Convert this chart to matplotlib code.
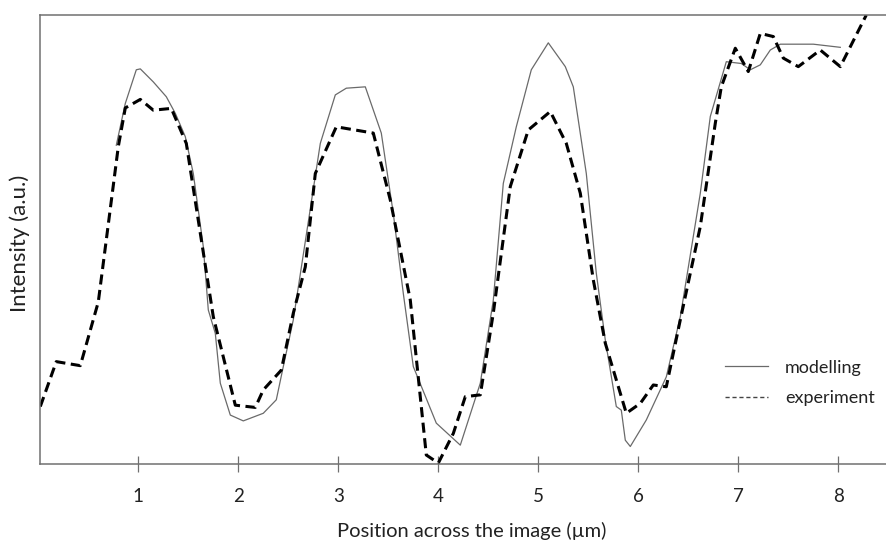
import matplotlib
matplotlib.use("Agg")
import matplotlib.pyplot as plt
from matplotlib.lines import Line2D

plt.rcParams["font.family"] = ["Lato", "DejaVu Sans"]

# experiment profile (dashed), position in um and intensity in a.u.
exp_x = [0.02, 0.18, 0.42, 0.60, 0.80, 0.87, 1.02, 1.15, 1.33, 1.48, 1.62, 1.75,
         1.97, 2.17, 2.25, 2.43, 2.55, 2.67, 2.77, 2.98, 3.35, 3.52, 3.72, 3.88,
         4.00, 4.15, 4.27, 4.42, 4.55, 4.72, 4.90, 5.12, 5.28, 5.42, 5.55, 5.67,
         5.88, 6.02, 6.15, 6.28, 6.42, 6.62, 6.77, 6.83, 6.97, 7.10, 7.22, 7.35,
         7.45, 7.60, 7.82, 8.02, 8.28]
exp_y = [12.8, 22.8, 21.9, 36.1, 70.7, 79.3, 81.2, 78.8, 79.2, 71.4, 51.4, 32.8,
         13.1, 12.6, 16.5, 20.9, 33.6, 43.9, 64.7, 75.1, 73.7, 58.8, 36.5, 2.0,
         0.2, 6.8, 15.0, 15.4, 33.6, 61.8, 74.4, 78.5, 71.4, 60.3, 41.0, 26.9,
         11.3, 13.5, 17.6, 17.2, 32.1, 52.9, 75.9, 84.0, 92.6, 87.4, 95.9, 95.2,
         90.4, 88.5, 92.2, 88.5, 100.0]

# modelling profile (solid)
mod_x = [0.78, 0.87, 0.98, 1.02, 1.15, 1.28, 1.37, 1.47, 1.55, 1.65, 1.70, 1.77,
         1.82, 1.92, 2.05, 2.25, 2.38, 2.45, 2.55, 2.82, 2.97, 3.08, 3.27, 3.43,
         3.55, 3.65, 3.75, 3.98, 4.22, 4.42, 4.55, 4.65, 4.78, 4.93, 5.10, 5.27,
         5.35, 5.48, 5.58, 5.67, 5.78, 5.83, 5.87, 5.92, 6.08, 6.28, 6.42, 6.62,
         6.72, 6.88, 7.03, 7.12, 7.22, 7.32, 7.42, 7.75, 8.02]
mod_y = [71.0, 80.3, 87.8, 88.0, 85.1, 81.8, 78.1, 72.9, 64.7, 48.4, 34.3, 29.1,
         18.0, 10.9, 9.6, 11.3, 14.3, 21.7, 32.1, 71.4, 82.2, 83.7, 84.0, 73.7,
         55.8, 38.0, 21.7, 9.1, 4.2, 18.0, 36.5, 62.5, 75.1, 87.8, 93.8, 88.5,
         84.0, 64.7, 42.5, 27.6, 12.8, 12.0, 5.3, 3.9, 9.8, 19.4, 32.8, 60.3,
         77.4, 89.6, 89.2, 87.8, 88.9, 92.2, 93.5, 93.5, 92.8]

xticks = [1, 2, 3, 4, 5, 6, 7, 8]

fig = plt.figure(figsize=(8.87, 5.41), dpi=100)
ax = fig.add_axes([40 / 887, 1 - 464 / 541, 1 - 40 / 887, (464 - 15) / 541])

ax.plot(mod_x, mod_y, color="#6a6a6a", lw=0.9)
ax.plot(exp_x, exp_y, color="black", lw=2.2, linestyle=(0, (3.3, 1.8)))

ax.set_xlim(0.017, 8.487)
ax.set_ylim(0, 100)
ax.set_xticks(xticks)
ax.set_yticks([])
ax.tick_params(axis="x", direction="inout", length=12, width=0.9,
               color="#707070", labelsize=13.5, pad=11, labelcolor="#222222")
for s in ["left", "top", "bottom"]:
    ax.spines[s].set_color("#707070")
    ax.spines[s].set_linewidth(1.1)
ax.spines["right"].set_visible(False)

ax.set_xlabel("Position across the image (µm)", fontsize=14.5, color="#222222")
ax.xaxis.set_label_coords(0.51, -0.13)
ax.set_ylabel("Intensity (a.u.)", fontsize=16, color="#222222")
ax.yaxis.set_label_coords(-0.012, 0.492)

handles = [Line2D([], [], color="#6a6a6a", lw=0.9),
           Line2D([], [], color="#444444", lw=1.0, linestyle=(0, (3, 2)))]
ax.legend(handles, ["modelling", "experiment"], loc="lower right",
          bbox_to_anchor=(1.005, 0.093), frameon=False, fontsize=13,
          handlelength=2.4, handletextpad=0.95, labelspacing=0.8,
          labelcolor="#222222")

fig.savefig("out.png", dpi=100)
